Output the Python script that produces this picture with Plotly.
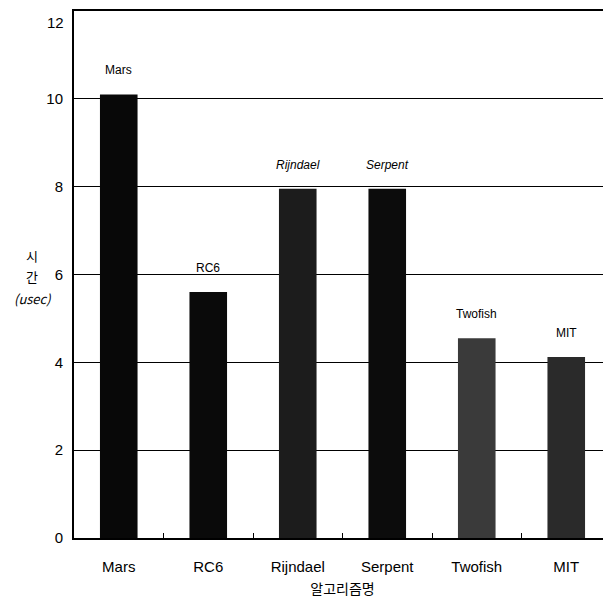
import plotly.graph_objects as go

categories = ["Mars", "RC6", "Rijndael", "Serpent", "Twofish", "MIT"]
times_usec = [10.1, 5.6, 7.95, 7.95, 4.55, 4.12]
bar_colors = ["#080808", "#0a0a0a", "#1c1c1c", "#0c0c0c", "#3a3a3a", "#2a2a2a"]
label_italic = [False, False, True, True, False, False]
y_ticks = [0, 2, 4, 6, 8, 10, 12]
y_title_lines = ["시", "간", "<i>(usec)</i>"]

fig = go.Figure()
fig.add_trace(go.Bar(
    x=categories, y=times_usec,
    marker=dict(color=bar_colors, line=dict(width=0)),
    width=0.42,
    showlegend=False,
))

for c, v, it in zip(categories, times_usec, label_italic):
    fig.add_annotation(
        x=c, y=v, yshift=24, showarrow=False,
        text=(f"<i>{c}</i>" if it else c),
        font=dict(family="Liberation Sans Narrow, Liberation Sans, Arial", size=12, color="#000"),
    )

for i, t in enumerate(y_title_lines):
    fig.add_annotation(
        xref="paper", yref="paper", x=-0.078, y=0.537 - i * 0.041,
        xanchor="center", yanchor="middle", showarrow=False,
        text=t,
        font=dict(family="Noto Sans CJK KR, Liberation Sans", size=13, color="#000"),
    )

# top tick label drawn just below the frame (as in the reference)
top_tick = y_ticks[-1]
fig.add_annotation(
    xref="paper", yref="y", x=0, y=top_tick, xanchor="right", yanchor="middle",
    xshift=-8, yshift=-11, showarrow=False, text=str(top_tick),
    font=dict(family="Liberation Sans, Arial", size=15, color="#000"),
)

fig.update_layout(
    width=611, height=603,
    margin=dict(l=66, r=8, t=3, b=73),
    paper_bgcolor="white", plot_bgcolor="white",
    font=dict(family="Liberation Sans, Arial", size=14, color="#000"),
)
fig.update_xaxes(
    automargin=False,
    showline=True, linecolor="#000", linewidth=2, mirror=True,
    ticks="inside", tickson="boundaries", ticklen=5, tickwidth=1, tickcolor="#000",
    showgrid=False, ticklabelstandoff=14,
    title=dict(text="알고리즘명", font=dict(family="Noto Sans CJK KR", size=14), standoff=10),
    tickfont=dict(family="Liberation Sans Narrow, Liberation Sans", size=15),
)
fig.update_yaxes(
    automargin=False,
    range=[0, 12], tickvals=y_ticks,
    ticktext=[str(v) for v in y_ticks[:-1]] + [""],
    showline=True, linecolor="#000", linewidth=2, mirror=True,
    showgrid=True, gridcolor="#000", gridwidth=1,
    ticks="", zeroline=False, ticklabelstandoff=6,
    tickfont=dict(size=15),
)

fig.write_html("out.html")
